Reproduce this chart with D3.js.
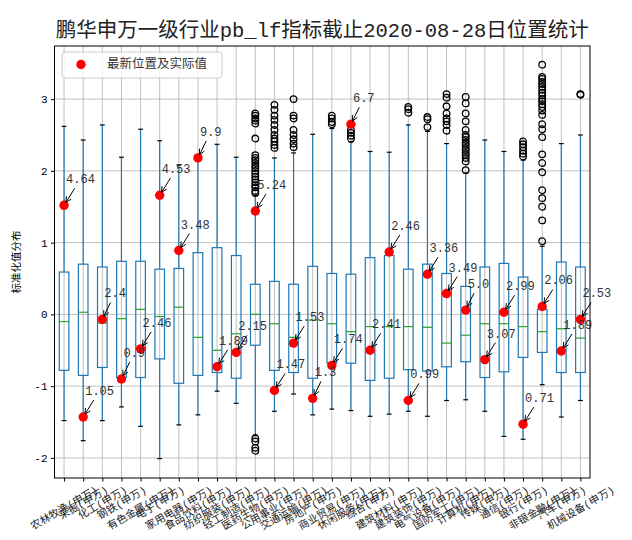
<!DOCTYPE html>
<html>
<head>
<meta charset="utf-8">
<script src="https://cdn.jsdelivr.net/npm/d3@7"></script>
<style>
    body { margin: 0; background: #fff; }
    svg text { font-family: "Liberation Mono", "Noto Sans CJK SC", monospace; }
</style>
</head>
<body>
<div id="chart"></div>
<script>
// 申万一级行业
const industries = ["农林牧渔(申万)", "采掘(申万)", "化工(申万)", "钢铁(申万)", "有色金属(申万)", "电子(申万)", "家用电器(申万)",
    "食品饮料(申万)", "纺织服装(申万)", "轻工制造(申万)", "医药生物(申万)", "公用事业(申万)", "交通运输(申万)", "房地产(申万)",
    "商业贸易(申万)", "休闲服务(申万)", "综合(申万)", "建筑材料(申万)", "建筑装饰(申万)", "电气设备(申万)", "国防军工(申万)",
    "计算机(申万)", "传媒(申万)", "通信(申万)", "银行(申万)", "非银金融(申万)", "汽车(申万)", "机械设备(申万)"];

// box statistics (standardised values)
const whiskerLow = [-1.48, -1.76, -1.48, -1.29, -1.56, -2.01, -1.54, -1.40, -1.07, -1.24, -1.68, -1.35, -1.11, -1.40,
    -1.32, -1.34, -1.42, -1.39, -1.35, -1.42, -1.20, -1.19, -1.35, -1.70, -1.74, -0.98, -1.43, -1.20];
const q1 = [-0.78, -0.85, -0.74, -0.88, -0.88, -0.62, -0.96, -0.85, -0.81, -0.89, -0.43, -0.78, -0.81, -0.89,
    -0.68, -0.68, -0.92, -0.89, -0.77, -0.79, -0.73, -0.66, -0.88, -0.80, -0.60, -0.53, -0.81, -0.81];
const median = [-0.10, 0.03, -0.12, -0.06, 0.07, -0.03, 0.10, -0.32, -0.50, -0.27, 0.00, -0.13, -0.32, -0.08,
    -0.13, -0.24, -0.17, -0.17, -0.17, -0.18, -0.40, -0.29, -0.13, -0.13, -0.17, -0.24, -0.20, -0.33];
const q3 = [0.59, 0.70, 0.66, 0.74, 0.74, 0.63, 0.64, 0.86, 0.93, 0.82, 0.42, 0.46, 0.42, 0.67,
    0.57, 0.56, 0.79, 0.82, 0.63, 0.70, 0.57, 0.39, 0.66, 0.71, 0.52, 0.07, 0.73, 0.66];
const whiskerHigh = [2.62, 2.43, 2.64, 2.19, 2.58, 2.42, 2.08, 2.18, 2.37, 2.19, 1.66, 2.18, 2.25, 2.51,
    2.59, 2.40, 2.27, 2.26, 2.64, 2.55, 2.38, 1.97, 2.43, 2.27, 2.15, 0.95, 2.38, 2.50];

const outliers = [[], [], [], [], [], [], [], [], [], [],
    [2.80, 2.77, 2.73, 2.70, 2.66, 2.45, 2.22, 2.18, 2.15, 2.11, 2.07, 2.04, 2.00, 1.96, 1.92, 1.88, 1.84, 1.80, 1.77, 1.72, 1.69,
        -1.73, -1.77, -1.86, -1.90],
    [2.92, 2.85, 2.77, 2.71, 2.64, 2.57, 2.50, 2.45, 2.41, 2.36, 2.32],
    [3.00, 2.77, 2.73, 2.57, 2.50, 2.44, 2.38, 2.33],
    [],
    [2.77, 2.73, 2.68, 2.65],
    [2.65, 2.57, 2.53, 2.49, 2.45],
    [], [],
    [2.89, 2.86, 2.81],
    [2.75, 2.72, 2.61],
    [3.07, 3.02, 2.90, 2.80, 2.73, 2.69, 2.64, 2.56],
    [3.03, 2.94, 2.80, 2.69, 2.57, 2.50, 2.47, 2.43, 2.39, 2.36, 2.32, 2.29, 2.25, 2.22, 2.18, 2.13, 2.01],
    [], [],
    [2.41, 2.37, 2.33, 2.28, 2.24, 2.20],
    [3.48, 3.31, 3.28, 3.24, 3.21, 3.17, 3.13, 3.09, 3.05, 3.00, 2.97, 2.93, 2.89, 2.84, 2.78, 2.65, 2.58, 2.47,
        2.23, 2.11, 1.98, 1.73, 1.62, 1.50, 1.31, 1.02],
    [],
    [3.07, 3.06]];

// latest position and real pb value
const latestPos = [1.52, -1.43, -0.07, -0.90, -0.48, 1.66, 0.89, 2.18, -0.73, -0.53, 1.44, -1.06, -0.40, -1.17,
    -0.71, 2.65, -0.50, 0.87, -1.20, 0.56, 0.29, 0.06, -0.63, 0.03, -1.53, 0.11, -0.51, -0.07];
const latestLabel = ["4.64", "1.05", "2.4", "0.9", "2.46", "4.53", "3.48", "9.9", "1.89", "2.15", "5.24", "1.47", "1.53", "1.3",
    "1.74", "6.7", "2.41", "2.46", "0.99", "3.36", "3.49", "5.0", "3.07", "2.99", "0.71", "2.06", "1.89", "2.53"];

const yTicks = [-2, -1, 0, 1, 2, 3];

function drawChart() {
    var width = 632, height = 540,
        pLeft = 54.5, pRight = 590, pTop = 46, pBottom = 478,
        boxHalf = 4.8, capHalf = 2.4,
        blue = "#1f77b4", green = "#2ca02c";

    var x = d3.scaleLinear().domain([0.5, industries.length + 0.5]).range([pLeft, pRight]);
    var y = d3.scaleLinear().domain([-2.28, 3.74]).range([pBottom, pTop]);

    var svg = d3.select("#chart").append("svg")
        .attr("width", width)
        .attr("height", height);

    // title
    svg.append("text")
        .attr("x", (pLeft + pRight) / 2)
        .attr("y", 37)
        .attr("text-anchor", "middle")
        .attr("font-size", 20.5)
        .attr("fill", "#222")
        .text("鹏华申万一级行业pb_lf指标截止2020-08-28日位置统计");

    // grid
    var grid = svg.append("g").attr("stroke", "#b0b0b0").attr("stroke-width", 0.8);
    grid.selectAll(".gx").data(d3.range(1, industries.length + 1)).enter().append("line")
        .attr("x1", d => x(d)).attr("x2", d => x(d))
        .attr("y1", pTop).attr("y2", pBottom);
    grid.selectAll(".gy").data(yTicks).enter().append("line")
        .attr("x1", pLeft).attr("x2", pRight)
        .attr("y1", d => y(d)).attr("y2", d => y(d));

    // y axis
    var yAxis = svg.append("g")
        .attr("transform", "translate(" + pLeft + ",0)")
        .call(d3.axisLeft(y).tickValues(yTicks).tickSize(3.5).tickPadding(3.5)
            .tickFormat(d => d < 0 ? "-" + (-d) : String(d)));
    yAxis.select(".domain").remove();
    yAxis.attr("font-family", null).attr("font-size", 11);

    // x axis, labels rotated 30deg and centred under the tick
    var xAxis = svg.append("g")
        .attr("transform", "translate(0," + pBottom + ")")
        .call(d3.axisBottom(x).tickValues(d3.range(1, industries.length + 1)).tickSize(3.5)
            .tickFormat(d => industries[d - 1]));
    xAxis.select(".domain").remove();
    xAxis.attr("font-family", null).attr("font-size", 10.5);
    xAxis.selectAll("text")
        .attr("y", null)
        .attr("dy", null)
        .attr("text-anchor", "middle")
        .attr("dominant-baseline", "central")
        .attr("fill", "#222")
        .each(function () {
            var w = this.getComputedTextLength(), h = 10.5;
            var cy = 7 + (w * 0.5 + h * 0.866) / 2;
            d3.select(this).attr("transform", "translate(0," + cy + ") rotate(-30)");
        });

    // y label
    svg.append("text")
        .attr("transform", "translate(20," + ((pTop + pBottom) / 2) + ") rotate(-90)")
        .attr("text-anchor", "middle")
        .attr("font-size", 10.5)
        .text("标准化值分布");

    // boxes
    var boxes = svg.append("g").selectAll("g").data(industries).enter().append("g")
        .attr("transform", (d, i) => "translate(" + x(i + 1) + ",0)");

    boxes.append("line").attr("stroke", blue).attr("stroke-width", 1.2)
        .attr("y1", (d, i) => y(q3[i])).attr("y2", (d, i) => y(whiskerHigh[i]));
    boxes.append("line").attr("stroke", blue).attr("stroke-width", 1.2)
        .attr("y1", (d, i) => y(q1[i])).attr("y2", (d, i) => y(whiskerLow[i]));
    boxes.append("line").attr("stroke", "#000").attr("stroke-width", 1.2)
        .attr("x1", -capHalf).attr("x2", capHalf)
        .attr("y1", (d, i) => y(whiskerHigh[i])).attr("y2", (d, i) => y(whiskerHigh[i]));
    boxes.append("line").attr("stroke", "#000").attr("stroke-width", 1.2)
        .attr("x1", -capHalf).attr("x2", capHalf)
        .attr("y1", (d, i) => y(whiskerLow[i])).attr("y2", (d, i) => y(whiskerLow[i]));
    boxes.append("rect")
        .attr("x", -boxHalf).attr("width", boxHalf * 2)
        .attr("y", (d, i) => y(q3[i]))
        .attr("height", (d, i) => y(q1[i]) - y(q3[i]))
        .attr("fill", "none").attr("stroke", blue).attr("stroke-width", 1.2);
    boxes.append("line").attr("stroke", green).attr("stroke-width", 1.2)
        .attr("x1", -boxHalf).attr("x2", boxHalf)
        .attr("y1", (d, i) => y(median[i])).attr("y2", (d, i) => y(median[i]));
    boxes.selectAll("circle")
        .data((d, i) => outliers[i])
        .enter().append("circle")
        .attr("cy", d => y(d))
        .attr("r", 3.3)
        .attr("fill", "none").attr("stroke", "#000").attr("stroke-width", 1.3);

    // latest values
    svg.append("g").selectAll("circle").data(latestPos).enter().append("circle")
        .attr("cx", (d, i) => x(i + 1))
        .attr("cy", d => y(d))
        .attr("r", 4.7)
        .attr("fill", "#ff0000");

    function arrowPath(x0, y0, x1, y1) {
        var dx = x1 - x0, dy = y1 - y0, L = Math.hypot(dx, dy), ux = dx / L, uy = dy / L;
        var hl = 5.5, hw = 2.8, bx = x1 - ux * hl, by = y1 - uy * hl;
        return "M" + x0 + "," + y0 + "L" + x1 + "," + y1 +
            "M" + (bx - uy * hw) + "," + (by + ux * hw) + "L" + x1 + "," + y1 + "L" + (bx + uy * hw) + "," + (by - ux * hw);
    }

    var notes = svg.append("g");
    latestPos.forEach(function (v, i) {
        var px = x(i + 1), py = y(v), fs = 12;
        var t = notes.append("text")
            .attr("x", px + 2)
            .attr("y", py - 22)
            .attr("font-size", fs)
            .attr("fill", "#333")
            .text(latestLabel[i]);
        var w = t.node().getComputedTextLength();
        // arrow from text centre towards the point, clipped under the text
        var cx = px + 2 + w / 2, cy = py - 22 - fs * 0.35;
        var sy = py - 17, k = (sy - cy) / (py - cy), sx = cx + (px - cx) * k;
        var dx = px - sx, dy = py - sy, L = Math.hypot(dx, dy);
        var ex = px - dx / L * 3.5, ey = py - dy / L * 3.5;
        notes.append("path")
            .attr("d", arrowPath(sx, sy, ex, ey))
            .attr("fill", "none").attr("stroke", "#000").attr("stroke-width", 1);
    });

    // legend
    var legend = svg.append("g");
    legend.append("rect")
        .attr("x", 62).attr("y", 52).attr("width", 160).attr("height", 26).attr("rx", 3)
        .attr("fill", "#fff").attr("fill-opacity", 0.8).attr("stroke", "#ccc");
    legend.append("circle").attr("cx", 81).attr("cy", 64.5).attr("r", 4.7).attr("fill", "#ff0000");
    legend.append("text")
        .attr("x", 107).attr("y", 65)
        .attr("dominant-baseline", "central")
        .attr("font-size", 12.5)
        .attr("fill", "#333")
        .text("最新位置及实际值");

    // frame
    svg.append("rect")
        .attr("x", pLeft).attr("y", pTop)
        .attr("width", pRight - pLeft).attr("height", pBottom - pTop)
        .attr("fill", "none").attr("stroke", "#000").attr("stroke-width", 1);
}

drawChart();
</script>
</body>
</html>
